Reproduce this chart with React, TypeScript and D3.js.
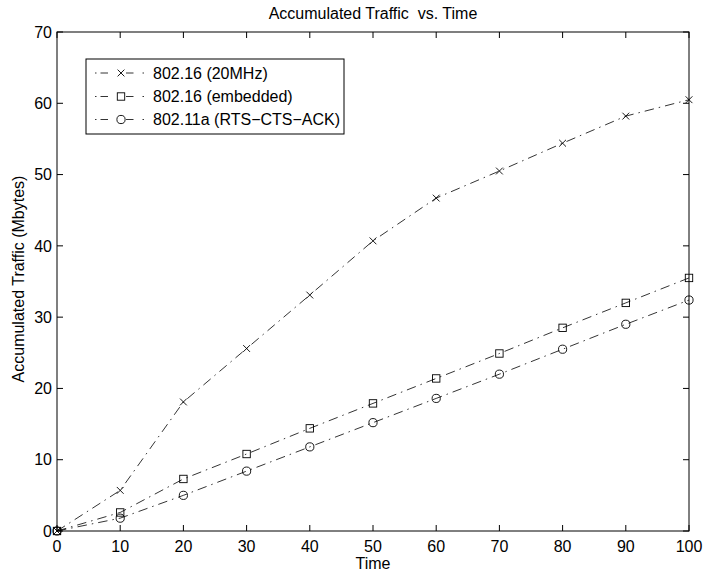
import React from "react";
import * as d3 from "d3";

const times = [0, 10, 20, 30, 40, 50, 60, 70, 80, 90, 100];
const traffic20MHz = [0, 5.7, 18.1, 25.6, 33.1, 40.7, 46.7, 50.5, 54.4, 58.2, 60.5];
const trafficEmbedded = [0, 2.6, 7.3, 10.8, 14.4, 17.9, 21.4, 24.9, 28.5, 32, 35.5];
const trafficWifi = [0, 1.8, 5, 8.4, 11.8, 15.2, 18.6, 22, 25.5, 29, 32.4];
const seriesNames = ["802.16 (20MHz)", "802.16 (embedded)", "802.11a (RTS\u2212CTS\u2212ACK)"];
const seriesMarkers = ["x", "square", "circle"];
const xTicks = [0, 10, 20, 30, 40, 50, 60, 70, 80, 90, 100];
const yTicks = [0, 10, 20, 30, 40, 50, 60, 70];

const W = 704, H = 577;
const L = 57, R = 689, T = 32, B = 531;
const FONT = "'Liberation Sans', Arial, Helvetica, sans-serif";
const FS = 16;

function Marker({ type, x, y }: { type: string; x: number; y: number }) {
  if (type === "x") {
    const s = 3.4;
    return (
      <path d={`M${x - s},${y - s}L${x + s},${y + s}M${x - s},${y + s}L${x + s},${y - s}`} stroke="#000" strokeWidth={0.9} fill="none" />
    );
  }
  if (type === "square") {
    const s = 3.7;
    return <rect x={x - s} y={y - s} width={2 * s} height={2 * s} stroke="#000" strokeWidth={0.9} fill="none" />;
  }
  return <circle cx={x} cy={y} r={4.1} stroke="#000" strokeWidth={0.9} fill="none" />;
}

export default function App() {
  const x = d3.scaleLinear().domain([0, 100]).range([L, R]);
  const y = d3.scaleLinear().domain([0, 70]).range([B, T]);
  const allSeries = [traffic20MHz, trafficEmbedded, trafficWifi];
  const line = d3
    .line<number>()
    .x((_, i) => x(times[i]))
    .y((d) => y(d));
  const dash = "9.5,5,1.5,5";
  const legX = 86, legY = 59, legW = 258, legH = 75;
  const rowY = [73, 96.5, 119.5];

  return (
    <svg width={W} height={H} style={{ position: "absolute", left: 0, top: 0, background: "#fff" }} fontFamily={FONT}>
      <rect x={0} y={0} width={W} height={H} fill="#fff" />
      <text x={(L + R) / 2} y={19} textAnchor="middle" fontSize={FS} style={{ whiteSpace: "pre" }}>
        {"Accumulated Traffic  vs. Time"}
      </text>
      {allSeries.map((s, k) => (
        <path key={k} d={line(s) || ""} fill="none" stroke="#000" strokeWidth={0.8} strokeDasharray={dash} />
      ))}
      {allSeries.map((s, k) =>
        s.map((v, i) => <Marker key={k + "-" + i} type={seriesMarkers[k]} x={x(times[i])} y={y(v)} />)
      )}
      <rect x={L} y={T} width={R - L} height={B - T} fill="none" stroke="#000" strokeWidth={1} />
      {xTicks.map((t) => (
        <g key={"xt" + t}>
          <line x1={x(t)} x2={x(t)} y1={B} y2={B - 6} stroke="#000" />
          <line x1={x(t)} x2={x(t)} y1={T} y2={T + 6} stroke="#000" />
          <text x={x(t)} y={B + 21} textAnchor="middle" fontSize={FS}>
            {t}
          </text>
        </g>
      ))}
      {yTicks.map((t) => (
        <g key={"yt" + t}>
          <line x1={L} x2={L + 6} y1={y(t)} y2={y(t)} stroke="#000" />
          <line x1={R} x2={R - 6} y1={y(t)} y2={y(t)} stroke="#000" />
          <text x={L - 5} y={y(t) + 5.7} textAnchor="end" fontSize={FS}>
            {t}
          </text>
        </g>
      ))}
      <text x={(L + R) / 2} y={569} textAnchor="middle" fontSize={FS}>
        Time
      </text>
      <text transform={`translate(24,279) rotate(-90)`} textAnchor="middle" fontSize={FS}>
        Accumulated Traffic (Mbytes)
      </text>
      <rect x={legX} y={legY} width={legW} height={legH} fill="#fff" stroke="#000" strokeWidth={1} />
      {seriesNames.map((n, k) => (
        <g key={"lg" + k}>
          <line x1={95} x2={96.5} y1={rowY[k]} y2={rowY[k]} stroke="#000" strokeWidth={0.8} />
          <line x1={100.5} x2={108} y1={rowY[k]} y2={rowY[k]} stroke="#000" strokeWidth={0.8} />
          <line x1={126} x2={133.5} y1={rowY[k]} y2={rowY[k]} stroke="#000" strokeWidth={0.8} />
          <line x1={142.5} x2={144} y1={rowY[k]} y2={rowY[k]} stroke="#000" strokeWidth={0.8} />
          <Marker type={seriesMarkers[k]} x={121} y={rowY[k]} />
          <text x={153} y={rowY[k] + 5.7} fontSize={FS}>
            {n}
          </text>
        </g>
      ))}
    </svg>
  );
}
